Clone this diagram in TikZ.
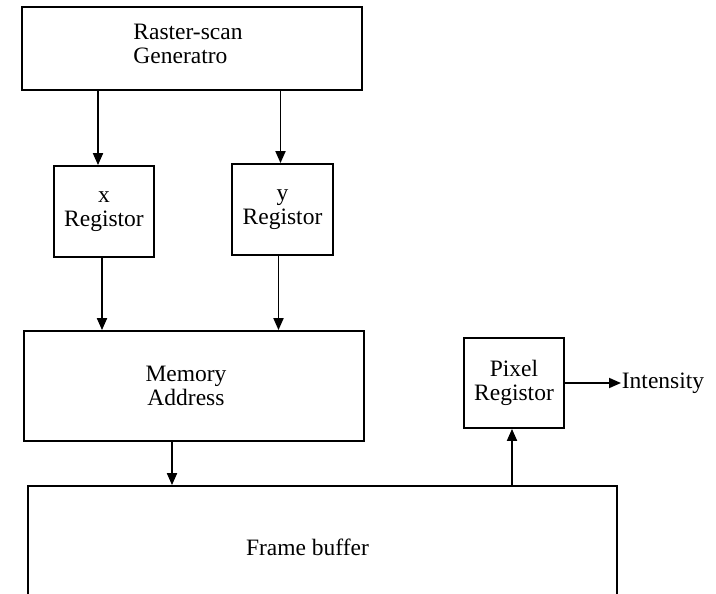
\documentclass[tikz,border=0pt]{standalone}
\usepackage{fontspec}
\setmainfont{Liberation Serif}
\usetikzlibrary{arrows.meta}

\begin{document}
\begin{tikzpicture}[x=1pt, y=-1pt, line width=1.8pt, >={Triangle[length=12pt,width=10pt]},
    font=\fontsize{23.5}{24}\selectfont,
    block/.style={draw, inner sep=0pt, align=center}]
    \useasboundingbox (0,0) rectangle (716,594);
    % boxes
    \node[block, minimum width=340pt, minimum height=83pt,
        label={[align=left, yshift=5pt, xshift=-4pt]center:Raster-scan\\Generatro}] (raster) at (192,48.5) {};
    \node[block, minimum width=100pt, minimum height=91pt] (xreg) at (104,211.5) {x\\Registor};
    \node[block, minimum width=101pt, minimum height=91pt] (yreg) at (282.5,209.5) {y\\Registor};
    \node[block, minimum width=340pt, minimum height=110pt,
        label={[align=center, xshift=-8pt]center:Memory\\Address}] (memory) at (194,386) {};
    \node[block, minimum width=100pt, minimum height=90pt] (pixel) at (514,383) {Pixel\\Registor};
    \node[block, minimum width=589pt, minimum height=122pt,
        label={[xshift=-15pt]center:Frame buffer}] (frame) at (322.5,547) {};
    \node[inner sep=0pt, anchor=west] (intensity) at (621,383) {Intensity};
    % connections
    \draw[->] ([xshift=-6pt]xreg.north |- raster.south) -- ([xshift=-6pt]xreg.north);
    \draw[->] ([xshift=-2pt]yreg.north |- raster.south) -- ([xshift=-2pt]yreg.north);
    \draw[->] ([xshift=-2pt]xreg.south) -- ([xshift=-2pt]xreg.south |- memory.north);
    \draw[->] ([xshift=-4pt]yreg.south) -- ([xshift=-4pt]yreg.south |- memory.north);
    \draw[->] ([xshift=-22pt]memory.south) -- ([xshift=-22pt]memory.south |- frame.north);
    \draw[->] ([xshift=-2pt]pixel.south |- frame.north) -- ([xshift=-2pt]pixel.south);
    \draw[->] (pixel.east) -- (intensity.west);
\end{tikzpicture}
\end{document}
